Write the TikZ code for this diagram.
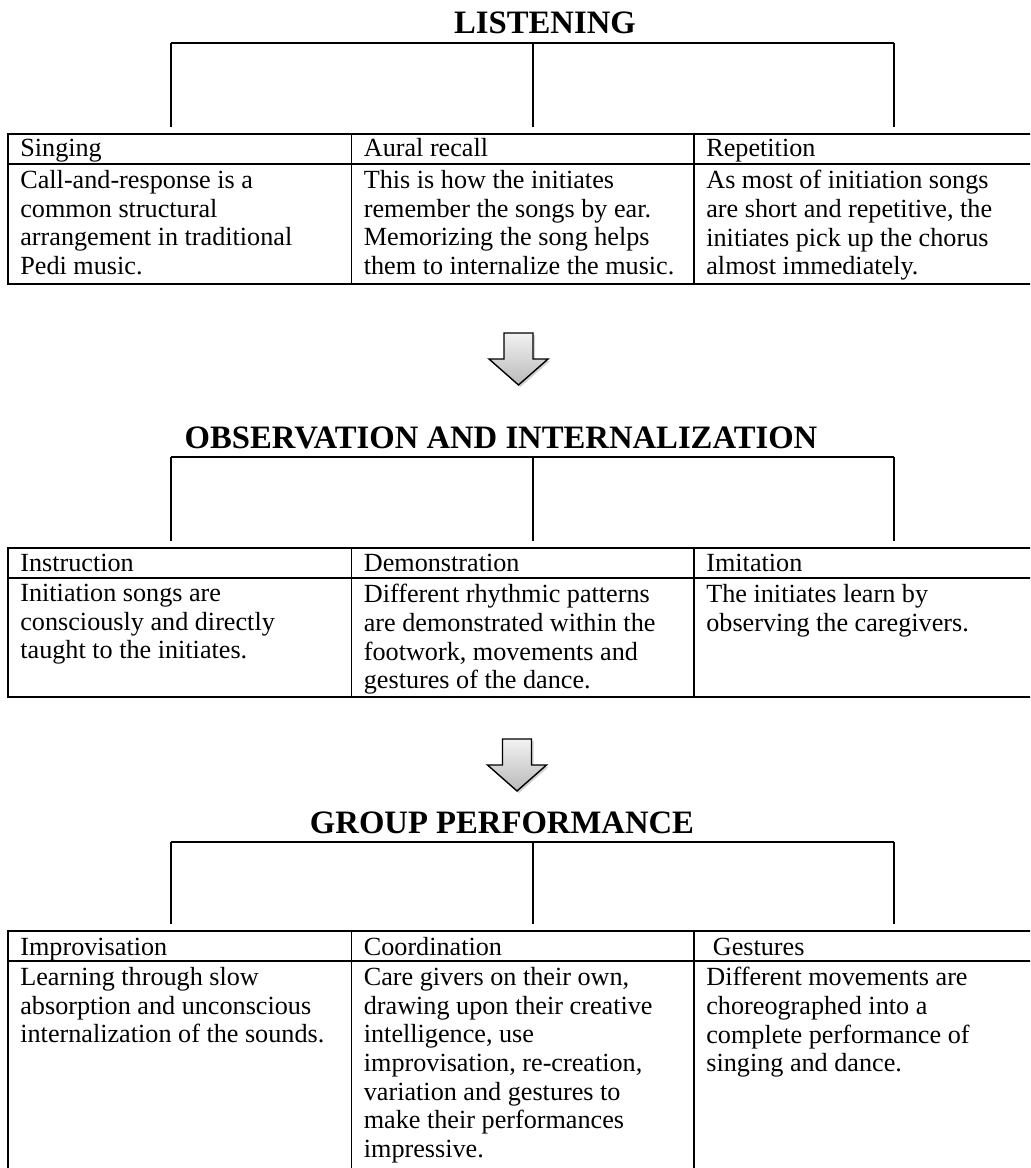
\documentclass[tikz,border=0pt]{standalone}
\usepackage{fontspec}
\setmainfont{Liberation Serif}
\usetikzlibrary{positioning}
\usetikzlibrary{shadows}

\tikzset{
  downarrow/.pic={
    \draw[line width=0.8pt, top color=gray!10, bottom color=gray!55,
      drop shadow={shadow xshift=0.04cm, shadow yshift=-0.04cm, opacity=0.35}]
      (-0.29,0) -- (0.29,0) -- (0.29,-0.52) -- (0.59,-0.52) -- (0,-1.04)
      -- (-0.59,-0.52) -- (-0.29,-0.52) -- cycle;
  }
}

\begin{document}
\begin{tikzpicture}[
  title/.style={font=\fontsize{18.6}{20}\selectfont\bfseries, inner sep=0pt, anchor=base},
  headtext/.style={font=\fontsize{14.9}{16.3}\selectfont, inner sep=0pt, anchor=base west},
  bodytext/.style={font=\fontsize{14.9}{16.3}\selectfont, inner sep=0pt, anchor=north west, align=left},
  grid/.style={line width=1.1pt},
  bracket/.style={line width=0.8pt}
]
\useasboundingbox (0,0) rectangle (20.6,-23.36);
\clip (0,0) rectangle (20.6,-23.36);

% listening
\begin{scope}[yshift=-0.86cm]
\node[title] (listen) at (10.90,0.18) {LISTENING};
\coordinate (la) at (3.42,0);
\coordinate (lc) at (17.88,0);
\draw[bracket] (la) -- (lc);
\foreach \x in {3.42,10.66,17.88}
  \draw[bracket] (\x,0) -- (\x,-1.68);
\draw[grid] (0.16,-1.82) rectangle (20.9,-4.82);
\draw[grid] (0.16,-2.42) -- (20.9,-2.42);
\foreach \x in {7.03,13.88}
  \draw[grid] (\x,-1.82) -- (\x,-4.82);
\node[headtext] (sing) at (0.40,-2.28) {Singing};
\node[headtext] (aural) at (7.27,-2.28) {Aural recall};
\node[headtext] (rep) at (14.12,-2.28) {Repetition};
\node[bodytext] (singtxt) at (0.40,-2.54)
  {Call-and-response is a\\common structural\\arrangement in traditional\\Pedi music.};
\node[bodytext] (auraltxt) at (7.27,-2.54)
  {This is how the initiates\\remember the songs by ear.\\Memorizing the song helps\\them to internalize the music.};
\node[bodytext] (reptxt) at (14.12,-2.54)
  {As most of initiation songs\\are short and repetitive, the\\initiates pick up the chorus\\almost immediately.};
\end{scope}

\pic at (10.37,-6.66) {downarrow};

% observation
\begin{scope}[yshift=-9.14cm]
\node[title] (observe) at (10.02,0.18) {OBSERVATION AND INTERNALIZATION};
\coordinate (oa) at (3.42,0);
\coordinate (oc) at (17.88,0);
\draw[bracket] (oa) -- (oc);
\foreach \x in {3.42,10.66,17.88}
  \draw[bracket] (\x,0) -- (\x,-1.68);
\draw[grid] (0.16,-1.82) rectangle (20.9,-4.80);
\draw[grid] (0.16,-2.42) -- (20.9,-2.42);
\foreach \x in {7.03,13.88}
  \draw[grid] (\x,-1.82) -- (\x,-4.80);
\node[headtext] (instr) at (0.40,-2.28) {Instruction};
\node[headtext] (demo) at (7.27,-2.28) {Demonstration};
\node[headtext] (imit) at (14.12,-2.28) {Imitation};
\node[bodytext] (instrtxt) at (0.40,-2.54)
  {Initiation songs are\\consciously and directly\\taught to the initiates.};
\node[bodytext] (demotxt) at (7.27,-2.54)
  {Different rhythmic patterns\\are demonstrated within the\\footwork, movements and\\gestures of the dance.};
\node[bodytext] (imittxt) at (14.12,-2.54)
  {The initiates learn by\\observing the caregivers.};
\end{scope}

\pic at (10.34,-14.78) {downarrow};

% group performance
\begin{scope}[yshift=-16.84cm]
\node[title] (group) at (10.04,0.18) {GROUP PERFORMANCE};
\coordinate (ga) at (3.42,0);
\coordinate (gc) at (17.88,0);
\draw[bracket] (ga) -- (gc);
\foreach \x in {3.42,10.66,17.88}
  \draw[bracket] (\x,0) -- (\x,-1.64);
\draw[grid] (0.16,-1.78) rectangle (20.9,-7.2);
\draw[grid] (0.16,-2.38) -- (20.9,-2.38);
\foreach \x in {7.03,13.88}
  \draw[grid] (\x,-1.78) -- (\x,-7.2);
\node[headtext] (impro) at (0.40,-2.26) {Improvisation};
\node[headtext] (coord) at (7.27,-2.26) {Coordination};
\node[headtext] (gest) at (14.12,-2.26) {\ Gestures};
\node[bodytext] (improtxt) at (0.40,-2.50)
  {Learning through slow\\absorption and unconscious\\internalization of the sounds.};
\node[bodytext] (coordtxt) at (7.27,-2.50)
  {Care givers on their own,\\drawing upon their creative\\intelligence, use\\improvisation, re-creation,\\variation and gestures to\\make their performances\\impressive.};
\node[bodytext] (gesttxt) at (14.12,-2.50)
  {Different movements are\\choreographed into a\\complete performance of\\singing and dance.};
\end{scope}

\end{tikzpicture}
\end{document}
